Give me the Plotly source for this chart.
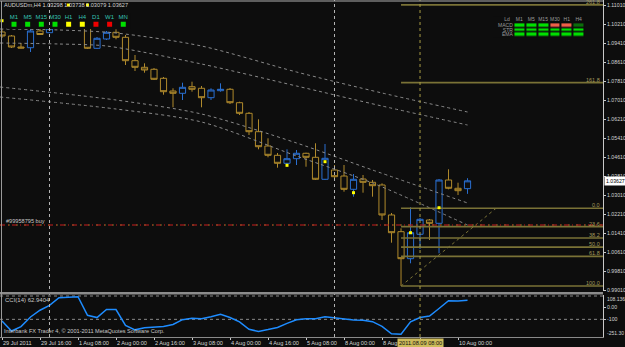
import plotly.graph_objects as go

# ---------------- data ----------------
# H4 bars, index 0 = 29 Jul 2011 00:00
OPEN = [1.09895, 1.09726, 1.09263, 1.09233, 1.09937, 1.09865, 1.10050, 1.10442, 1.10328, 1.10442,
        1.09208, 1.09600, 1.09882, 1.09671, 1.08686, 1.08408, 1.08324, 1.07945, 1.07410, 1.07313,
        1.07591, 1.07524, 1.07128, 1.07423, 1.07482, 1.06917, 1.06471, 1.05696, 1.05094, 1.04702,
        1.04365, 1.04559, 1.04787, 1.04618, 1.03692, 1.04083, 1.03830, 1.03270, 1.03704, 1.03565,
        1.03452, 1.02189, 1.01485, 1.00348, 1.01376, 1.01978, 1.01839, 1.03662, 1.03313, 1.03298]
HIGH = [1.10021, 1.09768, 1.09431, 1.10021, 1.10021, 1.10105, 1.10484, 1.10526, 1.10526, 1.10526,
        1.09684, 1.09937, 1.10008, 1.09768, 1.08926, 1.08576, 1.08379, 1.08000, 1.07524, 1.07759,
        1.07802, 1.07621, 1.07524, 1.07734, 1.07537, 1.06959, 1.06526, 1.06218, 1.05418, 1.04799,
        1.04955, 1.04925, 1.04812, 1.05208, 1.05178, 1.04294, 1.04294, 1.03915, 1.03873, 1.03662,
        1.03523, 1.02273, 1.01628, 1.02513, 1.02062, 1.02020, 1.03704, 1.04113, 1.03548, 1.03738]
LOW = [1.09642, 1.09221, 1.09208, 1.09052, 1.09768, 1.09852, 1.10021, 1.10231, 1.10273, 1.09179,
       1.09179, 1.09558, 1.09587, 1.08505, 1.08252, 1.08181, 1.07873, 1.07254, 1.06724, 1.07031,
       1.07381, 1.06724, 1.07031, 1.07381, 1.06863, 1.06400, 1.05557, 1.04955, 1.04618, 1.04180,
       1.04222, 1.04294, 1.04222, 1.03662, 1.03662, 1.03662, 1.03170, 1.02959, 1.03128, 1.02959,
       1.01978, 1.01022, 0.99198, 1.00154, 1.00757, 1.01136, 1.00576, 1.03270, 1.03031, 1.03079]
CLOSE = [1.09726, 1.09263, 1.09221, 1.09937, 1.09789, 1.10050, 1.10400, 1.10273, 1.10442, 1.09208,
         1.09629, 1.09882, 1.09671, 1.08686, 1.08408, 1.08294, 1.07903, 1.07381, 1.07313, 1.07566,
         1.07482, 1.07128, 1.07452, 1.07482, 1.06917, 1.06471, 1.05696, 1.05064, 1.04702, 1.04365,
         1.04559, 1.04787, 1.04618, 1.03692, 1.04576, 1.03801, 1.03270, 1.03692, 1.03565, 1.03422,
         1.02189, 1.01443, 1.00348, 1.01443, 1.02007, 1.01839, 1.03662, 1.03313, 1.03212, 1.03627]
BARS = list(range(len(OPEN)))

CCI = [-115, -200, -162, -80, -22, 20, 86, 92, 94, -65,
       -85, -16, -16, -152, -190, -172, -168, -161, -144, -103,
       -90, -94, -77, -57, -84, -122, -185, -204, -188, -170,
       -135, -103, -95, -94, -78, -87, -101, -105, -107, -120,
       -160, -224, -228, -122, -85, -72, -7, 59, 57, 62.94]
CCI_LEVELS = [100, -100]
CCI_MAX, CCI_MIN = 108.6, -251.4

TIME_TICK_BARS = [0, 4, 8, 12, 16, 20, 24, 28, 32, 36, 40, 44, 48]
TIME_LABELS = ["29 Jul 2011", "29 Jul 16:00", "1 Aug 08:00", "2 Aug 00:00", "2 Aug 16:00",
               "3 Aug 08:00", "4 Aug 00:00", "4 Aug 16:00", "5 Aug 08:00", "8 Aug 00:00",
               "8 Aug 16:00", "", "10 Aug 00:00"]   # 9 Aug 08:00 is covered by the cursor label
PRICE_TICKS = [round(0.99010 + 0.008 * k, 5) for k in range(16)]
PRICE_MIN, PRICE_MAX = 0.98988, 1.11242
X_MIN, X_MAX = -0.21, 63.26

SEPARATOR_BARS = [5, 35]
CURSOR_BAR = 44
CURSOR_LABEL = "2011.08.09 08:00"

BUY_PRICE = 1.01767
BUY_LABEL = "#99958795 buy"
LAST_PRICE = 1.03627

FIB_HIGH, FIB_LOW = 1.02470, 0.99198
FIB_START_BAR, FIB_END_BAR = 42, 52
FIB_LEVELS = [0.0, 23.6, 38.2, 50.0, 61.8, 100.0]
FIB_EXT = [161.8, 261.8]

REG1_X = [-0.2, 6, 12, 21, 31, 40, 49]
REG1_Y = [1.10021, 1.09979, 1.09852, 1.09305, 1.08210, 1.07326, 1.06526]
REG2_X = [-0.2, 6, 11, 21, 31, 40, 49]
REG2_Y = [1.09431, 1.09389, 1.09305, 1.08547, 1.07621, 1.06778, 1.05978]
REG3_X = [-0.2, 12, 21, 31, 39, 49]
REG3_Y = [1.07578, 1.07031, 1.06441, 1.05221, 1.04083, 1.02694]
REG4_X = [-0.2, 12, 21, 31, 39, 49]
REG4_Y = [1.07157, 1.06652, 1.06105, 1.04673, 1.03536, 1.01767]

ARROW_X = [0, 4, 7, 9, 12, 30, 34, 37, 43, 46]
ARROW_Y = [1.10370, 1.10581, 1.11031, 1.11031, 1.10539, 1.04281, 1.04433, 1.03128, 1.01443, 1.02495]

TF_LABELS = ["M1", "M5", "M15", "M30", "H1", "H4", "D1", "W1", "MN"]
TF_STATE = ["green", "green", "green", "green", "yellow", "yellow", "red", "red", "green"]

PANEL_COLS = ["M1", "M5", "M15", "M30", "H1", "H4"]
PANEL_ROWS = ["EMA", "STR", "MACD"]          # bottom to top
PANEL_Z = [[0, 0, 0, 0, 0, 0],
           [0, 0, 0, 0, 0, 0],
           [0, 0, 0, 1, 1, 2]]

HEADER = "AUDUSDm,H4 1.03298 1.03738 1.03079 1.03627"
CCI_LABEL = "CCI(14) 62.9404"
COPYRIGHT = "Interbank FX Trader 4, \u00a9 2001-2011 MetaQuotes Software Corp."

# ---------------- style ----------------
W, H = 625, 347
BG = "#0D0D0D"
GOLD = "#B08A2C"
BLUE = "#2A6FD0"
FIBC = "#7A7236"
FIBT = "#A39A5C"
TXT = "#D4D4D4"
FONT = "Liberation Sans"


def px_x(p):
    return p / W


def px_y(p):
    return (H - p) / H


fig = go.Figure()

# regression channel curves
for xs, ys in [(REG1_X, REG1_Y), (REG2_X, REG2_Y), (REG3_X, REG3_Y), (REG4_X, REG4_Y)]:
    fig.add_trace(go.Scatter(x=xs, y=ys, mode="lines", xaxis="x", yaxis="y",
                             line=dict(color="#8A8A8A", width=1, dash="dot", shape="spline", smoothing=0.8),
                             hoverinfo="skip", showlegend=False))

# fibonacci lines
rng = FIB_HIGH - FIB_LOW
fib_prices = [FIB_HIGH - l / 100 * rng for l in FIB_LEVELS] + [FIB_HIGH + l / 100 * rng for l in FIB_EXT]
fib_names = [f"{l:.1f}" for l in FIB_LEVELS] + [f"{l:.1f}" for l in FIB_EXT]
for p in fib_prices:
    fig.add_trace(go.Scatter(x=[FIB_START_BAR, X_MAX + 2], y=[p, p], mode="lines", xaxis="x", yaxis="y",
                             line=dict(color=FIBC, width=1.6), hoverinfo="skip", showlegend=False))
fig.add_trace(go.Scatter(x=[FIB_START_BAR, FIB_END_BAR], y=[FIB_LOW, FIB_HIGH], mode="lines",
                         xaxis="x", yaxis="y", line=dict(color=FIBC, width=1, dash="dot"),
                         hoverinfo="skip", showlegend=False))

# buy order line
fig.add_trace(go.Scatter(x=[X_MIN, X_MAX + 2], y=[BUY_PRICE, BUY_PRICE], mode="lines", xaxis="x", yaxis="y",
                         line=dict(color="#6E7A2A", width=1.2, dash="2px,6px"), hoverinfo="skip", showlegend=False))
fig.add_trace(go.Scatter(x=[X_MIN, X_MAX + 2], y=[BUY_PRICE, BUY_PRICE], mode="lines", xaxis="x", yaxis="y",
                         line=dict(color="#C81E1E", width=1.2, dash="5px,3px,1px,3px"), hoverinfo="skip",
                         showlegend=False))

# candles
fig.add_trace(go.Candlestick(x=BARS, open=OPEN, high=HIGH, low=LOW, close=CLOSE, xaxis="x", yaxis="y",
                             increasing=dict(line=dict(color=BLUE, width=1), fillcolor=BG),
                             decreasing=dict(line=dict(color=GOLD, width=1), fillcolor=BG),
                             whiskerwidth=0, showlegend=False, hoverinfo="skip"))

# arrows
fig.add_trace(go.Scatter(x=ARROW_X, y=ARROW_Y, mode="markers", xaxis="x", yaxis="y",
                         marker=dict(symbol="square", size=3, color="#FFFF00"), hoverinfo="skip",
                         showlegend=False))

# CCI
for lv in CCI_LEVELS:
    fig.add_trace(go.Scatter(x=[X_MIN, X_MAX], y=[lv, lv], mode="lines", xaxis="x2", yaxis="y2",
                             line=dict(color="#8A8A8A", width=1, dash="dot"), hoverinfo="skip",
                             showlegend=False))
fig.add_trace(go.Scatter(x=BARS, y=CCI, mode="lines", xaxis="x2", yaxis="y2",
                         line=dict(color="#1E8CFF", width=1.5), hoverinfo="skip", showlegend=False))

# timeframe squares (top-left)
sq_colors = {"green": "#00E000", "yellow": "#FFFF00", "red": "#F00000"}
fig.add_trace(go.Scatter(x=list(range(len(TF_LABELS))), y=[0] * len(TF_LABELS), mode="markers",
                         xaxis="x3", yaxis="y3",
                         marker=dict(symbol="square", size=5, color=[sq_colors[s] for s in TF_STATE],
                                     line=dict(width=0)),
                         hoverinfo="skip", showlegend=False))
fig.add_trace(go.Scatter(x=list(range(len(TF_LABELS))), y=[1] * len(TF_LABELS), mode="text",
                         text=TF_LABELS, xaxis="x3", yaxis="y3", cliponaxis=False,
                         textfont=dict(family=FONT, size=6, color="#35C2B2"),
                         hoverinfo="skip", showlegend=False))

# signal panel (top-right)
fig.add_trace(go.Heatmap(z=PANEL_Z, x=list(range(len(PANEL_COLS))), y=list(range(len(PANEL_ROWS))),
                         xaxis="x4", yaxis="y4", zmin=0, zmax=2, showscale=False, xgap=2, ygap=1.6,
                         colorscale=[[0, "#00E000"], [0.25, "#00E000"], [0.25, "#F06048"], [0.75, "#F06048"],
                                     [0.75, "#0B6E0B"], [1, "#0B6E0B"]], hoverinfo="skip"))
fig.add_trace(go.Scatter(x=list(range(len(PANEL_COLS))) + [-1.03], y=[3.2] * (len(PANEL_COLS) + 1),
                         mode="text", text=PANEL_COLS + ["Ld"], xaxis="x4", yaxis="y4", cliponaxis=False,
                         textfont=dict(family=FONT, size=5, color="#9A9A9A"), hoverinfo="skip",
                         showlegend=False))
fig.add_trace(go.Scatter(x=[-0.55] * len(PANEL_ROWS), y=list(range(len(PANEL_ROWS))), mode="text",
                         text=PANEL_ROWS, textposition="middle left", xaxis="x4", yaxis="y4",
                         cliponaxis=False, textfont=dict(family=FONT, size=5, color="#9A9A9A"),
                         hoverinfo="skip", showlegend=False))

annotations = []
for p, name in zip(fib_prices, fib_names):
    annotations.append(dict(x=px_x(601), xref="paper", xanchor="right", y=p, yref="y", yanchor="bottom",
                            text=name, showarrow=False, font=dict(family=FONT, size=5.5, color=FIBT),
                            borderpad=0, yshift=-1))
annotations += [
    dict(x=px_x(3), xref="paper", xanchor="left", y=px_y(5), yref="paper", yanchor="middle", text=HEADER,
         showarrow=False, font=dict(family=FONT, size=5.6, color=TXT), borderpad=0),
    dict(x=px_x(5), xref="paper", xanchor="left", y=BUY_PRICE, yref="y", yanchor="bottom", text=BUY_LABEL,
         showarrow=False, font=dict(family=FONT, size=5.6, color="#C8C8C8"), borderpad=0),
    dict(x=px_x(4), xref="paper", xanchor="left", y=px_y(300), yref="paper", yanchor="middle",
         text=CCI_LABEL, showarrow=False, font=dict(family=FONT, size=6, color="#C8C8C8"), borderpad=0),
    dict(x=px_x(3), xref="paper", xanchor="left", y=px_y(331), yref="paper", yanchor="middle",
         text=COPYRIGHT, showarrow=False, font=dict(family=FONT, size=5.6, color="#C8C8C8"), borderpad=0),
    dict(x=px_x(604), xref="paper", xanchor="left", y=LAST_PRICE, yref="y", yanchor="middle",
         text=f"{LAST_PRICE:.5f}", showarrow=False, font=dict(family=FONT, size=5.2, color="#000000"),
         bgcolor="#FFFFFF", borderpad=1),
    dict(x=px_x(606), xref="paper", xanchor="left", y=CCI_MAX, yref="y2", yanchor="top",
         text=f"{CCI_MAX - 0.4636:.4f}", showarrow=False, font=dict(family=FONT, size=5.0, color=TXT),
         borderpad=0),
    dict(x=px_x(606), xref="paper", xanchor="left", y=CCI_MIN, yref="y2", yanchor="bottom",
         text=f"{CCI_MIN + 0.1:.2f}", showarrow=False, font=dict(family=FONT, size=5.0, color=TXT),
         borderpad=0),
    dict(x=CURSOR_BAR, xref="x2", y=px_y(342.5), yref="paper", yanchor="middle", text=CURSOR_LABEL,
         showarrow=False, font=dict(family=FONT, size=5.6, color="#101010"), bgcolor="#CDBB5A",
         borderpad=1),
]

shapes = []
for b in SEPARATOR_BARS:
    shapes.append(dict(type="line", xref="x", yref="paper", x0=b, x1=b, y0=px_y(337), y1=1,
                       line=dict(color="#B4B4B4", width=1, dash="3px,3px")))
shapes.append(dict(type="line", xref="x", yref="paper", x0=CURSOR_BAR, x1=CURSOR_BAR, y0=px_y(337), y1=1,
                   line=dict(color="#A89C44", width=1, dash="3px,3px")))
shapes += [
    dict(type="rect", xref="paper", yref="paper", x0=0, x1=px_x(603), y0=px_y(294.5), y1=px_y(292),
         fillcolor="#8C8C8C", line=dict(width=0)),
    dict(type="line", xref="paper", yref="paper", x0=0, x1=px_x(603), y0=px_y(1), y1=px_y(1),
         line=dict(color="#B0B0B0", width=1)),
    dict(type="line", xref="paper", yref="paper", x0=px_x(1.5), x1=px_x(1.5), y0=px_y(337), y1=px_y(1),
         line=dict(color="#9A9A9A", width=1)),
]

axfont = dict(family=FONT, size=5.2, color=TXT)
tfont = dict(family=FONT, size=5.6, color=TXT)
hidden = dict(showgrid=False, zeroline=False, showticklabels=False, showline=False, ticks="",
              automargin=False)
fig.update_layout(
    width=W, height=H, margin=dict(l=0, r=0, t=0, b=0, autoexpand=False),
    paper_bgcolor=BG, plot_bgcolor=BG, showlegend=False,
    boxgap=0.35, boxgroupgap=0,
    xaxis=dict(domain=[0, px_x(603)], range=[X_MIN, X_MAX], showgrid=False, zeroline=False,
               showticklabels=False, rangeslider=dict(visible=False), anchor="y", automargin=False),
    yaxis=dict(domain=[px_y(291), 1], range=[PRICE_MIN, PRICE_MAX], side="right", anchor="x",
               tickvals=PRICE_TICKS, ticktext=[f"{v:.5f}" for v in PRICE_TICKS], tickfont=axfont,
               showgrid=False, zeroline=False, showline=True, linecolor="#C8C8C8", linewidth=1,
               ticks="outside", ticklen=2, tickcolor="#C8C8C8", automargin=False),
    xaxis2=dict(domain=[0, px_x(603)], range=[X_MIN, X_MAX], anchor="y2", showgrid=False, zeroline=False,
                tickvals=TIME_TICK_BARS, ticktext=TIME_LABELS, tickfont=tfont, tickangle=0,
                ticklabelposition="outside right", ticks="outside", ticklen=2, tickcolor="#C8C8C8",
                showline=True, linecolor="#8A8A8A", automargin=False),
    yaxis2=dict(domain=[px_y(337), px_y(295)], range=[CCI_MIN, CCI_MAX], side="right", anchor="x2",
                tickvals=[0, -100], ticktext=["0.00", "-100"], tickfont=axfont, showgrid=False,
                zeroline=False, showline=True, linecolor="#C8C8C8", ticks="outside", ticklen=2,
                tickcolor="#C8C8C8", automargin=False),
    xaxis3=dict(domain=[px_x(7.17), px_x(130.1)], range=[-0.5, 8.5], anchor="y3", **hidden),
    yaxis3=dict(domain=[px_y(29), px_y(13)], range=[-0.667, 1.556], anchor="x3", **hidden),
    xaxis4=dict(domain=[px_x(493), px_x(584.6)], range=[-2.22, 5.5], anchor="y4", **hidden),
    yaxis4=dict(domain=[px_y(37.3), px_y(16.9)], range=[-0.5, 3.9], anchor="x4", **hidden),
    annotations=annotations, shapes=shapes,
)

fig.write_html("out.html")
